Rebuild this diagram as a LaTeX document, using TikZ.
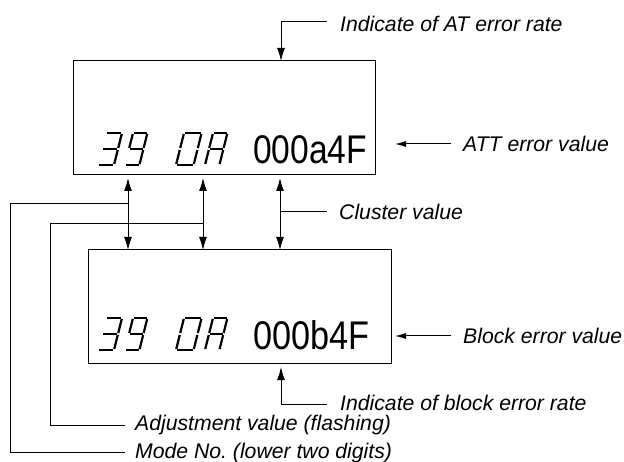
\documentclass[tikz,border=0pt]{standalone}
\usepackage{fontspec}
\setmainfont{Liberation Sans}
\usetikzlibrary{arrows.meta}
\frenchspacing
\newcommand{\segA}{\draw[seg] (1,32)--(15,32);}
\newcommand{\segB}{\draw[seg] (16,31)--(16,17);}
\newcommand{\segC}{\draw[seg] (16,15)--(16,1);}
\newcommand{\segD}{\draw[seg] (1,0)--(15,0);}
\newcommand{\segE}{\draw[seg] (0,15)--(0,1);}
\newcommand{\segF}{\draw[seg] (0,31)--(0,17);}
\newcommand{\segG}{\draw[seg] (1,16)--(15,16);}
% #1,#2: lower left corner; #3: horizontal scale
\newcommand{\digitThree}[3]{\begin{scope}[shift={(#1,#2)},yscale=-1,xslant=-0.25,xscale=#3]\segA\segB\segC\segD\segG\end{scope}}
\newcommand{\digitNine}[3]{\begin{scope}[shift={(#1,#2)},yscale=-1,xslant=-0.25,xscale=#3]\segA\segB\segC\segD\segF\segG\end{scope}}
\newcommand{\digitZero}[3]{\begin{scope}[shift={(#1,#2)},yscale=-1,xslant=-0.25,xscale=#3]\segA\segB\segC\segD\segE\segF\end{scope}}
\newcommand{\digitA}[3]{\begin{scope}[shift={(#1,#2)},yscale=-1,xslant=-0.25,xscale=#3]\segA\segB\segC\segE\segF\segG\end{scope}}
\tikzset{
  seg/.style={line width=2.2pt,black},
  panel/.style={draw,line width=1pt,minimum width=302pt,minimum height=114pt,inner sep=0pt},
  lbl/.style={anchor=west,inner sep=0pt,font=\itshape\fontsize{21.2}{23}\selectfont},
  big/.style={anchor=west,inner sep=0pt,font=\fontsize{40}{42}\selectfont,xscale=0.84},
  lead/.style={line width=1pt},
  arr/.style={line width=1pt,-{Latex[length=13pt,width=8pt]}},
  harr/.style={line width=1pt,-{Latex[length=11pt,width=6pt]}},
  dbl/.style={line width=1pt,{Latex[length=13pt,width=8pt]}-{Latex[length=13pt,width=8pt]}}
}
\begin{document}
\begin{tikzpicture}[x=1pt,y=-1pt]
\useasboundingbox (0,0) rectangle (624,462);
\node[panel] (top) at (224,118) {};
\node[panel,minimum width=303pt] (bot) at (239.5,307) {};
% labels
\node[lbl] (lAT) at (340,24) {Indicate of AT error rate};
\node[lbl] (lATT) at (463,143.5) {ATT error value};
\node[lbl] (lCl) at (339,212) {Cluster value};
\node[lbl] (lBl) at (463,335.5) {Block error value};
\node[lbl] (lBr) at (340,402.5) {Indicate of block error rate};
\node[lbl] (lAd) at (135,425.5) {Adjustment value (flashing)};
\node[lbl] (lMo) at (135,453) {Mode No. (lower two digits)};
% big text
\node[big] (valT) at (253,150) {000a4F};
\node[big,xscale=1.02] (valB) at (253,335) {000b4F};
% segment digits
\digitThree{98}{165}{1}\digitNine{125}{165}{0.9}\digitZero{176}{165}{1.1}\digitA{205}{165}{0.9}
\digitThree{98}{350}{1}\digitNine{125}{350}{0.9}\digitZero{176}{350}{1.1}\digitA{205}{350}{0.9}
% connection points
\coordinate (t1) at (128,178); \coordinate (b1) at (128,250);
\coordinate (t2) at (203,178); \coordinate (b2) at (203,250);
\coordinate (t3) at (280,178); \coordinate (b3) at (280,250);
\coordinate (j1) at (128,204); \coordinate (j2) at (203,224); \coordinate (j3) at (280,212);
\coordinate (c1) at (10.5,204); \coordinate (c2) at (50,224);
\coordinate (c1b) at (10.5,452); \coordinate (c2b) at (50,425);
\coordinate (e1) at (125,452); \coordinate (e2) at (125,425);
\coordinate (a0) at (327,22); \coordinate (a1) at (281,22); \coordinate (a2) at (281,61);
\coordinate (d0) at (327,404); \coordinate (d1) at (281,404); \coordinate (d2) at (281,367);
\coordinate (g1) at (451,144); \coordinate (g2) at (395,144);
\coordinate (h1) at (451,336); \coordinate (h2) at (395,336);
\coordinate (k) at (327,212);
% connectors
\draw[dbl] (t1)--(b1);
\draw[dbl] (t2)--(b2);
\draw[dbl] (t3)--(b3);
\draw[lead] (j1)--(c1)--(c1b)--(e1);
\draw[lead] (j2)--(c2)--(c2b)--(e2);
\draw[lead] (j3)--(k);
\draw[arr] (a0)--(a1)--(a2);
\draw[arr] (d0)--(d1)--(d2);
\draw[harr] (g1)--(g2);
\draw[harr] (h1)--(h2);
\end{tikzpicture}
\end{document}
